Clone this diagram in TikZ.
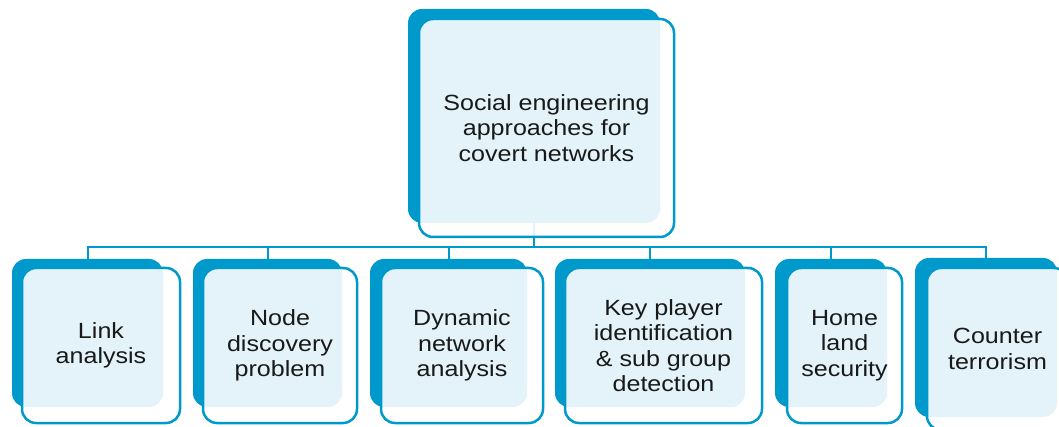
\documentclass[tikz,border=0pt]{standalone}
\usepackage{fontspec}
\setmainfont{Liberation Sans}[FakeStretch=1.14]
\usetikzlibrary{calc}
\definecolor{sblue}{RGB}{0,153,204}
\definecolor{stext}{RGB}{25,25,25}
\begin{document}
\begin{tikzpicture}[x=1pt,y=-1pt,
  back/.style={rectangle, rounded corners=14pt, fill=sblue, inner sep=0pt, outer sep=0pt},
  front/.style={rectangle, rounded corners=14pt, draw=sblue, line width=2.5pt, fill=white, fill opacity=0.89, text opacity=1, inner sep=0pt, outer sep=0pt, align=center, text=stext, font=\fontsize{22}{25.5}\selectfont},
  conn/.style={draw=sblue, line width=2pt}]
\clip (0,0) rectangle (1059,427);
\useasboundingbox (0,0) rectangle (1059,427);
% back boxes
\node[back, minimum width=252pt, minimum height=214pt] (tb) at (534,116) {};
\node[back, minimum width=151pt, minimum height=148pt] (b1) at (87.5,333) {};
\node[back, minimum width=149pt, minimum height=148pt] (b2) at (267.5,333) {};
\node[back, minimum width=157pt, minimum height=148pt] (b3) at (448.5,333) {};
\node[back, minimum width=190pt, minimum height=148pt] (b4) at (650,333) {};
\node[back, minimum width=112pt, minimum height=148pt] (b5) at (831,333) {};
\node[back, minimum width=142pt, minimum height=159pt] (b6) at (986,337.5) {};
% connectors
\coordinate (bus) at ($(tb.south)+(0,24)$);
\draw[conn] (tb.south) -- (bus);
\foreach \c in {b1,b2,b3,b4,b5,b6} {\draw[conn] (bus) -| (\c.north);}
% front boxes
\node[front, minimum width=255pt, minimum height=218pt] (tf) at (546.5,128) {Social engineering\\approaches for\\covert networks};
\node[front, minimum width=158pt, minimum height=155pt] (f1) at (101,345.5) {Link\\analysis};
\node[front, minimum width=154pt, minimum height=155pt] (f2) at (280,345.5) {Node\\discovery\\problem};
\node[front, minimum width=162pt, minimum height=155pt] (f3) at (462,345.5) {Dynamic\\network\\analysis};
\node[front, minimum width=197pt, minimum height=155pt] (f4) at (663.5,345.5) {Key player\\identification\\\& sub group\\detection};
\node[front, minimum width=115pt, minimum height=155pt] (f5) at (844.5,345.5) {Home\\land\\security};
\node[front, minimum width=141pt, minimum height=162pt] (f6) at (997.5,349) {Counter\\terrorism};
\end{tikzpicture}
\end{document}
